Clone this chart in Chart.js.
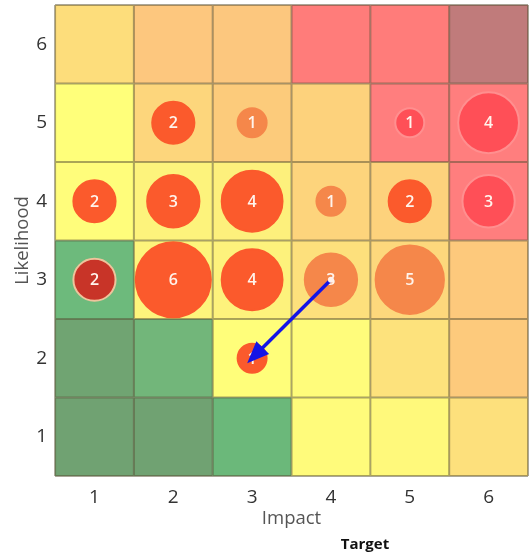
<!DOCTYPE html>
<html>
<head>
<meta charset="utf-8">
<script src="https://cdn.jsdelivr.net/npm/chart.js@4/dist/chart.umd.min.js"></script>
<style>
  html, body { margin: 0; padding: 0; background: #ffffff; }
  #wrap { width: 529px; height: 557px; }
</style>
</head>
<body>
<div id="wrap"><canvas id="c" width="529" height="557"></canvas></div>
<script>
// Axis levels
const impactLevels = [1, 2, 3, 4, 5, 6];
const likelihoodLevels = [1, 2, 3, 4, 5, 6];

// Risks per cell (impact, likelihood, number of risks)
const riskImpact     = [2, 3, 5, 6,  1, 2, 3, 4, 5, 6,  1, 2, 3, 4, 5,  3];
const riskLikelihood = [5, 5, 5, 5,  4, 4, 4, 4, 4, 4,  3, 3, 3, 3, 3,  2];
const riskCount      = [2, 1, 1, 4,  2, 3, 4, 1, 2, 3,  2, 6, 4, 3, 5,  1];
const riskStatus     = ['A','B','C','C', 'A','A','A','B','A','C', 'D','A','A','B','B', 'A'];

// Movement towards the target position
const targetFrom = { impact: 4, likelihood: 3 };
const targetTo   = { impact: 3, likelihood: 2 };
const targetLabel = 'Target';

// Heat map cell colours, rows from likelihood 6 down to 1, columns impact 1..6
const cellColors = [
  ['#fddd7b', '#fdc77e', '#fcc77e', '#ff7c7a', '#ff7c7a', '#c07b7b'],
  ['#ffff7a', '#fdd67c', '#fccb7b', '#fdd27c', '#ff7e7e', '#ff7e7e'],
  ['#fffd7b', '#fdf37c', '#fdf07c', '#fdd47c', '#fdd27c', '#ff7e7e'],
  ['#6dba7c', '#fdf57c', '#fdf27c', '#fde07c', '#fdd87c', '#fdc97c'],
  ['#70a472', '#72b67a', '#fffe7a', '#fffc7b', '#fde27c', '#fdca7c'],
  ['#70a272', '#70a272', '#6bb87a', '#fffb7b', '#fff97b', '#fde07c']
];

const statusFill   = { A: '#fb5a2c', B: '#f5874a', C: '#ff4f57', D: '#c83428' };
const statusBorder = { A: '#fb5a2c', B: '#f5874a', C: '#ff8f8f', D: '#eec49c' };

const FONT = '"Open Sans", "Noto Sans", sans-serif';

function bubbleRadius(n) { return 15.9 * Math.sqrt(n) - 1.4; }

const bubbleData = riskCount.map((n, i) => ({
  x: riskImpact[i], y: riskLikelihood[i], r: bubbleRadius(n)
}));

const heatMapPlugin = {
  id: 'heatMap',
  beforeDatasetsDraw(chart) {
    const { ctx, scales: { x, y } } = chart;
    ctx.save();
    for (let row = 0; row < cellColors.length; row++) {
      const lik = likelihoodLevels[likelihoodLevels.length - 1 - row];
      for (let col = 0; col < impactLevels.length; col++) {
        const imp = impactLevels[col];
        const x0 = x.getPixelForValue(imp - 0.5), x1 = x.getPixelForValue(imp + 0.5);
        const y0 = y.getPixelForValue(lik + 0.5), y1 = y.getPixelForValue(lik - 0.5);
        ctx.fillStyle = cellColors[row][col];
        ctx.fillRect(x0, y0, x1 - x0, y1 - y0);
      }
    }
    ctx.strokeStyle = 'rgba(85, 78, 50, 0.5)';
    ctx.lineWidth = 2;
    ctx.beginPath();
    for (let v = 0.5; v <= 6.5; v += 1) {
      const px = x.getPixelForValue(v);
      ctx.moveTo(px, y.top); ctx.lineTo(px, y.bottom);
      const py = y.getPixelForValue(v);
      ctx.moveTo(x.left, py); ctx.lineTo(x.right, py);
    }
    ctx.stroke();
    ctx.restore();
  },
  afterDatasetDraw(chart, args) {
    if (args.meta.type !== 'bubble') return;
    const { ctx } = chart;
    ctx.save();
    ctx.fillStyle = '#fff4ec';
    ctx.font = '600 16px ' + FONT;
    ctx.textAlign = 'center';
    ctx.textBaseline = 'middle';
    args.meta.data.forEach((el, i) => {
      ctx.fillText(String(riskCount[i]), el.x, el.y + 1);
    });
    ctx.restore();
  },
  afterDatasetsDraw(chart) {
    const { ctx, scales: { x, y } } = chart;
    const sx = x.getPixelForValue(targetFrom.impact), sy = y.getPixelForValue(targetFrom.likelihood);
    const ex = x.getPixelForValue(targetTo.impact), ey = y.getPixelForValue(targetTo.likelihood);
    const ang = Math.atan2(ey - sy, ex - sx);
    const tipX = ex + Math.cos(ang) * 7, tipY = ey + Math.sin(ang) * 7;
    const headLen = 22, headHalf = 9;
    const bx = tipX - Math.cos(ang) * headLen, by = tipY - Math.sin(ang) * headLen;
    ctx.save();
    ctx.fillStyle = '#1414e6';
    ctx.beginPath();
    ctx.moveTo(tipX, tipY);
    ctx.lineTo(bx + Math.sin(ang) * headHalf, by - Math.cos(ang) * headHalf);
    ctx.lineTo(bx - Math.sin(ang) * headHalf, by + Math.cos(ang) * headHalf);
    ctx.closePath();
    ctx.fill();
    // legend text for the target arrow
    ctx.fillStyle = '#111111';
    ctx.font = 'bold 15px ' + FONT;
    ctx.textAlign = 'center';
    ctx.textBaseline = 'middle';
    ctx.fillText(targetLabel, 365, 545);
    ctx.restore();
  }
};

// tick values sit inside the axis range, so no half-label margin is needed at the ends
const noEdgePadding = s => {
  s.paddingTop = 0; s.paddingBottom = 0; s.paddingLeft = 0; s.paddingRight = 0;
};

new Chart(document.getElementById('c'), {
  data: {
    datasets: [
      {
        type: 'line',
        label: targetLabel,
        data: [
          { x: targetFrom.impact, y: targetFrom.likelihood },
          { x: targetTo.impact, y: targetTo.likelihood }
        ],
        borderColor: '#1414e6',
        borderWidth: 3.5,
        pointRadius: [3, 0],
        pointBackgroundColor: '#fff0ea',
        pointBorderWidth: 0,
        fill: false
      },
      {
        type: 'bubble',
        label: 'Risks',
        data: bubbleData,
        backgroundColor: riskStatus.map(s => statusFill[s]),
        borderColor: riskStatus.map(s => statusBorder[s]),
        borderWidth: 2
      }
    ]
  },
  options: {
    responsive: false,
    animation: false,
    events: [],
    layout: { autoPadding: false, padding: { top: 5, right: 1, bottom: 23, left: 8 } },
    plugins: { legend: { display: false }, tooltip: { enabled: false } },
    scales: {
      x: {
        type: 'linear',
        min: 0.5, max: 6.5,
        afterBuildTicks: s => { s.ticks = impactLevels.map(v => ({ value: v })); },
        afterFit: noEdgePadding,
        grid: { display: false, drawTicks: false },
        border: { display: false },
        ticks: { color: '#333', padding: 10, font: { family: FONT, size: 19 }, callback: v => String(v) },
        title: { display: true, text: 'Impact', color: '#555', font: { family: FONT, size: 18.5 }, padding: { top: -11, bottom: 4 } }
      },
      y: {
        type: 'linear',
        min: 0.5, max: 6.5,
        afterBuildTicks: s => { s.ticks = likelihoodLevels.map(v => ({ value: v })); },
        afterFit: noEdgePadding,
        grid: { display: false, drawTicks: false },
        border: { display: false },
        ticks: { color: '#333', padding: 8, font: { family: FONT, size: 19 }, callback: v => String(v) },
        title: { display: true, text: 'Likelihood', color: '#555', font: { family: FONT, size: 18.5 }, padding: { top: 4, bottom: -6 } }
      }
    }
  },
  plugins: [heatMapPlugin]
});
</script>
</body>
</html>
